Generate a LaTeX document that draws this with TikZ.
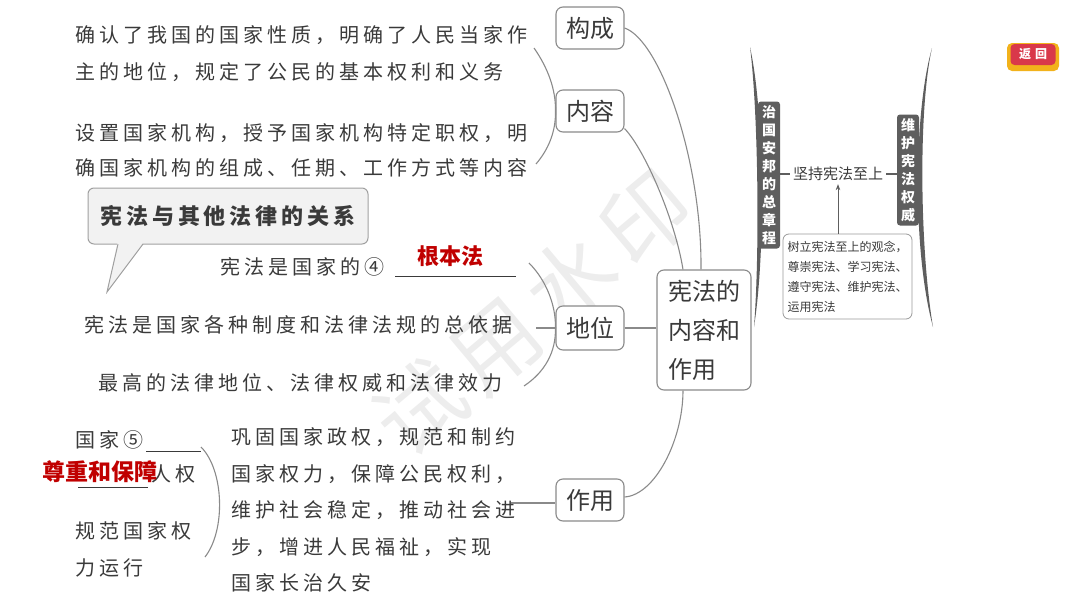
\documentclass[tikz,border=0pt]{standalone}
\usepackage{fontspec}
\setmainfont{Noto Sans CJK SC}
\newfontfamily\lsfont[LetterSpace=20]{Noto Sans CJK SC}
\newfontfamily\lsbfont[LetterSpace=18]{Noto Sans CJK SC}
\newfontfamily\wmfont[LetterSpace=12]{Noto Sans CJK SC}
\usetikzlibrary{arrows.meta,calc}
\definecolor{txtc}{HTML}{3A3A3A}
\definecolor{linec}{HTML}{8A8A8A}
\definecolor{dk}{HTML}{5E5E5E}
\definecolor{redt}{HTML}{C00000}
\definecolor{bub}{HTML}{F2F2F2}
\definecolor{bubline}{HTML}{A0A0A0}
\definecolor{wm}{HTML}{EDEDED}
\definecolor{btnred}{HTML}{D9384A}
\definecolor{btnyel}{HTML}{F2B21B}
\begin{document}
\begin{tikzpicture}[x=1pt,y=-1pt,
  lt/.style={anchor=west, inner sep=0pt, text=txtc, font=\lsfont\fontsize{20}{24}\selectfont},
  mbox/.style={draw=linec, line width=1.1pt, rounded corners=7pt, fill=white, text=txtc,
    minimum width=68pt, minimum height=42pt, inner sep=0pt, font=\fontsize{24}{24}\selectfont},
  conn/.style={draw=linec, line width=1.1pt},
  ul/.style={draw=txtc, line width=0.8pt},
  redlab/.style={inner sep=0pt, text=redt, font=\bfseries\fontsize{22}{22}\selectfont},
  vlab/.style={fill=dk, rounded corners=3pt, text=white, align=center, minimum width=22pt,
    inner sep=0pt, font=\bfseries\fontsize{14}{18}\selectfont}]
\useasboundingbox (0,0) rectangle (1080,608);

% watermark
\node[rotate=40, text=wm, inner sep=0pt, font=\wmfont\fontsize{88}{88}\selectfont] (wmk) at (533,313) {试用水印};

% main nodes
\node[mbox] (gc) at (590,28) {构成};
\node[mbox] (nr) at (590,111) {内容};
\node[mbox, minimum height=44pt] (dw) at (590,328) {地位};
\node[mbox] (zy) at (590,500) {作用};
\node[mbox, minimum width=94pt, minimum height=120pt, align=left,
  font=\fontsize{24}{39}\selectfont] (cen) at (704,330) {宪法的\\内容和\\作用};

% left texts
\node[lt] (t1) at (75,35) {确认了我国的国家性质，明确了人民当家作};
\node[lt] (t2) at (75,72) {主的地位，规定了公民的基本权利和义务};
\node[lt] (t3) at (75,133) {设置国家机构，授予国家机构特定职权，明};
\node[lt] (t4) at (75,168) {确国家机构的组成、任期、工作方式等内容};

% bubble
\node[draw=bubline, line width=1pt, fill=bub, rounded corners=6pt, minimum width=280pt,
  minimum height=56pt, inner sep=0pt, text=txtc,
  font=\lsbfont\bfseries\fontsize{22}{22}\selectfont] (bt) at (228,216) {宪法与其他法律的关系};
\fill[bub] (117.5,242.3) -- (107,292) -- (143.5,242.3) -- cycle;
\draw[bubline, line width=1pt] (118,244) -- (107,292) -- (143,244);

% 地位 texts
\node[lt] (a1) at (220,267) {宪法是国家的④};
\draw[ul] (395,276) -- (516,276);
\node[redlab] (r1) at (450,256) {根本法};
\node[lt] (a2) at (84,325) {宪法是国家各种制度和法律法规的总依据};
\node[lt] (a3) at (98,383) {最高的法律地位、法律权威和法律效力};

% 作用 texts
\node[lt] (b1) at (75,440) {国家⑤};
\draw[ul] (146,451) -- (201,451);
\node[lt] (b2) at (151,474) {人权};
\draw[ul] (78,487) -- (148,487);
\node[redlab, font=\bfseries\fontsize{23}{23}\selectfont] (r2) at (100,472) {尊重和保障};
\node[lt, align=left, font=\lsfont\fontsize{20}{37}\selectfont] (b3) at (75,549) {规范国家权\\力运行};
\node[lt, align=left, font=\lsfont\fontsize{20}{36.5}\selectfont] (b4) at (231,510)
  {巩固国家政权，规范和制约\\国家权力，保障公民权利，\\维护社会稳定，推动社会进\\步，增进人民福祉，实现\\国家长治久安};

% connectors
\coordinate (k1) at (534,48);
\coordinate (k2) at (536,164);
\draw[conn] (k1) .. controls (548,68) and (556,90) .. (nr.west) .. controls (556,132) and (548,150) .. (k2);
\coordinate (d1) at (529,263);
\coordinate (d2) at (524,386);
\coordinate (d3) at (536,328);
\draw[conn] (d1) .. controls (546,280) and (556,305) .. (dw.west) .. controls (556,352) and (545,372) .. (d2);
\draw[conn] (d3) -- (dw.west);
\draw[conn] (dw.east) -- (dw.east -| cen.west);
\draw[conn] (gc.east) .. controls (660,40) and (702,160) .. ($(cen.north)+(-3,0)$);
\draw[conn] ($(nr.south east)+(0,-4)$) .. controls (645,150) and (675,220) .. ($(cen.north)+(-21,0)$);
\draw[conn] ($(zy.east)+(0,-3)$) .. controls (655,495) and (683,440) .. ($(cen.south)+(-21,0)$);
\coordinate (z1) at (511,503);
\draw[conn] (z1) -- (z1 -| zy.west);
\coordinate (p1) at (201,447);
\coordinate (p2) at (205,557);
\draw[conn] (p1) .. controls (224,470) and (226,530) .. (p2);

% right part: crescents
\fill[dk] (750,47) .. controls (764,110) and (766,250) .. (754,327)
  .. controls (760,250) and (758,110) .. (750,47) -- cycle;
\fill[dk] (932,48) .. controls (914,110) and (912,250) .. (933,327)
  .. controls (920,250) and (918,110) .. (932,48) -- cycle;

\node[vlab, minimum height=147pt] (zg) at (769,175) {治\\国\\安\\邦\\的\\总\\章\\程};
\node[vlab, minimum height=111pt] (wh) at (908,170) {维\\护\\宪\\法\\权\\威};
\node[inner sep=3pt, text=txtc, font=\fontsize{15}{15}\selectfont] (jc) at (838,174) {坚持宪法至上};
\draw[dk, line width=2.5pt] (zg.east |- jc.west) -- (jc.west);
\draw[dk, line width=2.5pt] (jc.east) -- (jc.east -| wh.west);

\node[draw=gray!80, line width=0.8pt, rounded corners=6pt, minimum width=129pt, minimum height=85pt,
  align=left, text=txtc, inner sep=0pt, font=\fontsize{12}{20}\selectfont] (nt) at (847.5,276.5)
  {树立宪法至上的观念，\\尊崇宪法、学习宪法、\\遵守宪法、维护宪法、\\运用宪法};
\draw[dk, line width=0.8pt, -{Stealth[length=6pt,width=4.5pt]}] (jc.south |- nt.north) -- (jc.south);

% return button
\fill[btnyel, rounded corners=5pt] (1007,43) rectangle (1059,71);
\node[fill=btnred, rounded corners=4pt, minimum width=45pt, minimum height=21pt, inner sep=0pt,
  text=white, font=\bfseries\fontsize{12}{12}\selectfont] (fh) at (1033,54.5) {返\hspace{4pt}回};
\end{tikzpicture}
\end{document}
